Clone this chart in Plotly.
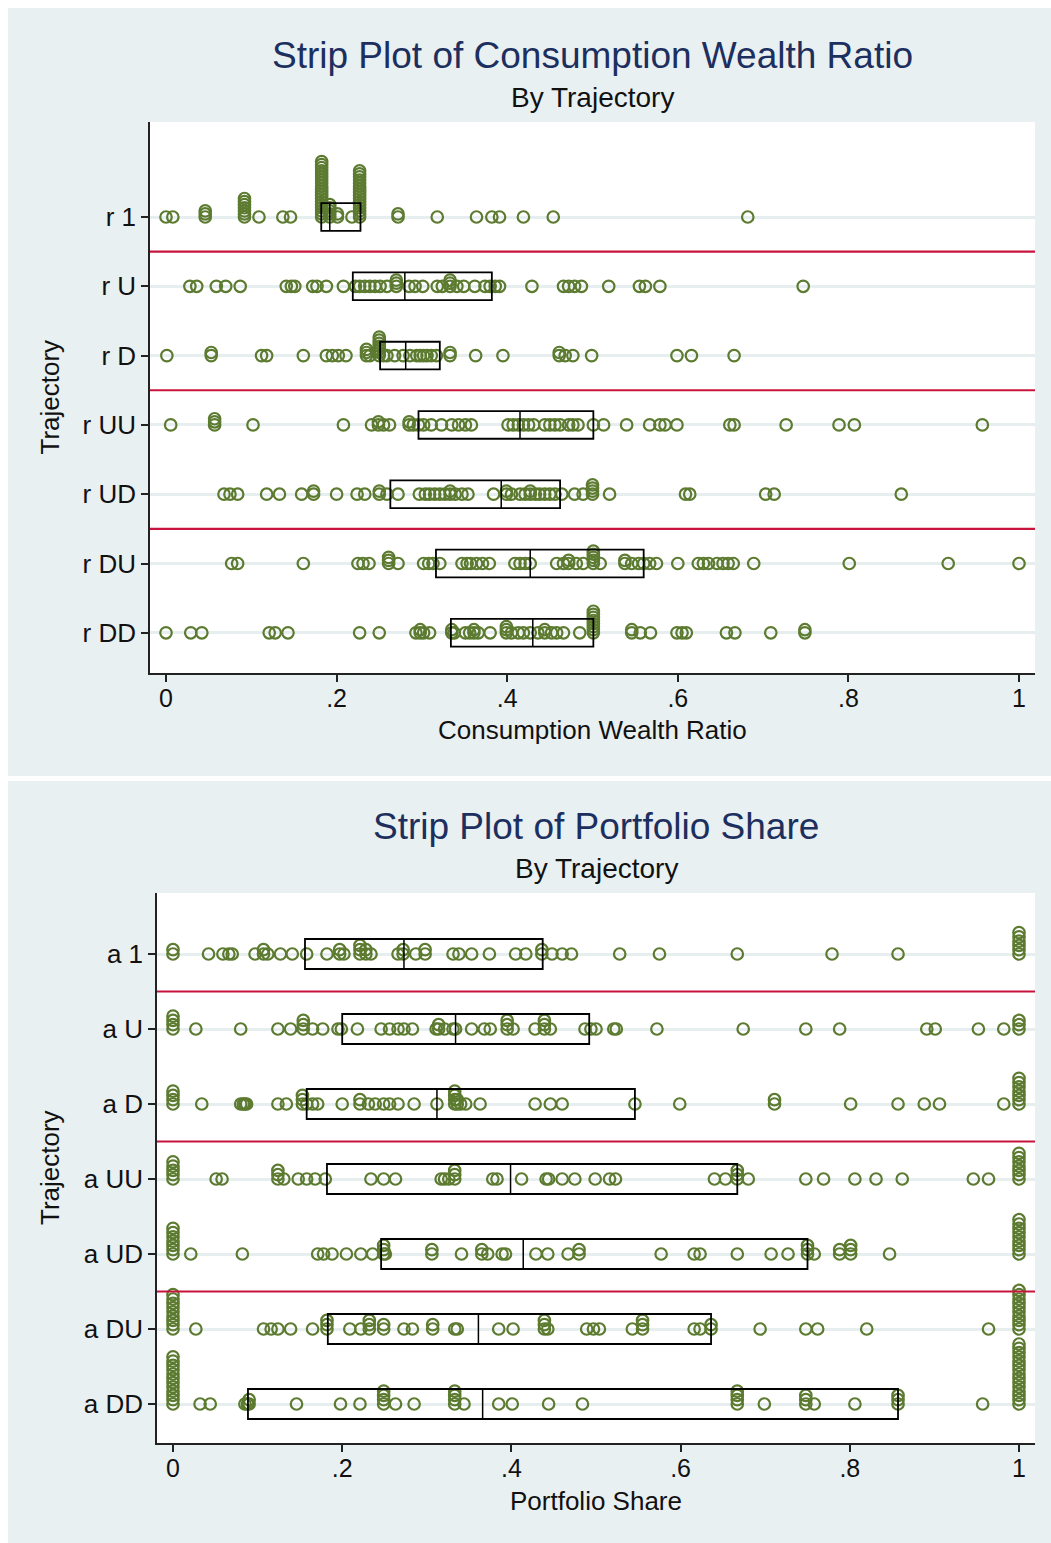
import numpy as np
import plotly.graph_objects as go

W, H = 1051, 1543

# ---------------- Consumption wealth ratio (top panel) ----------------
cwr_labels = ["r 1", "r U", "r D", "r UU", "r UD", "r DU", "r DD"]

cwr_r1_x = [0.0, 0.008, 0.046, 0.092, 0.109, 0.137, 0.146, 0.1825, 0.192, 0.201, 0.218, 0.227,
            0.272, 0.318, 0.364, 0.382, 0.391, 0.419, 0.454, 0.682]
cwr_r1_n = [1, 1, 3, 7, 1, 1, 1, 19, 5, 2, 1, 16, 2, 1, 1, 1, 1, 1, 1, 1]

cwr_rU_x = [0.028, 0.036, 0.059, 0.070, 0.087, 0.141, 0.147, 0.151, 0.172, 0.177, 0.188, 0.208,
            0.222, 0.227, 0.233, 0.239, 0.245, 0.251, 0.259, 0.270, 0.285, 0.292, 0.301, 0.318,
            0.324, 0.333, 0.341, 0.349, 0.362, 0.374, 0.380, 0.386, 0.391, 0.429, 0.466, 0.472,
            0.479, 0.487, 0.519, 0.555, 0.562, 0.579, 0.747]
cwr_rU_n = [1, 1, 1, 1, 1, 1, 1, 1, 1, 1, 1, 1,
            1, 1, 1, 1, 1, 1, 1, 3, 1, 1, 1, 1,
            1, 3, 1, 1, 1, 1, 1, 1, 1, 1, 1, 1,
            1, 1, 1, 1, 1, 1, 1]

cwr_rD_x = [0.001, 0.053, 0.112, 0.118, 0.161, 0.188, 0.195, 0.202, 0.211, 0.235, 0.239, 0.250,
            0.255, 0.259, 0.268, 0.278, 0.286, 0.294, 0.298, 0.302, 0.306, 0.311, 0.317, 0.333,
            0.363, 0.395, 0.461, 0.468, 0.477, 0.499, 0.599, 0.616, 0.666]
cwr_rD_n = [1, 2, 1, 1, 1, 1, 1, 1, 1, 3, 1, 7,
            1, 1, 1, 1, 1, 1, 1, 1, 1, 1, 1, 2,
            1, 1, 2, 1, 1, 1, 1, 1, 1]

cwr_rUU_x = [0.0055, 0.057, 0.102, 0.208, 0.241, 0.249, 0.255, 0.262, 0.285, 0.290, 0.296, 0.302,
             0.311, 0.323, 0.335, 0.343, 0.351, 0.358, 0.401, 0.407, 0.413, 0.419, 0.425, 0.431,
             0.444, 0.450, 0.456, 0.462, 0.472, 0.477, 0.483, 0.501, 0.513, 0.540, 0.567, 0.579,
             0.585, 0.599, 0.661, 0.666, 0.727, 0.789, 0.807, 0.957]
cwr_rUU_n = [1, 3, 1, 1, 1, 2, 1, 1, 2, 1, 1, 1,
             1, 1, 1, 1, 1, 1, 1, 1, 1, 1, 1, 1,
             1, 1, 1, 1, 1, 1, 1, 1, 1, 1, 1, 1,
             1, 1, 1, 1, 1, 1, 1, 1]

cwr_rUD_x = [0.068, 0.075, 0.084, 0.118, 0.133, 0.159, 0.173, 0.200, 0.224, 0.233, 0.250, 0.259,
             0.272, 0.297, 0.304, 0.309, 0.315, 0.321, 0.327, 0.333, 0.339, 0.347, 0.354, 0.384,
             0.399, 0.405, 0.415, 0.421, 0.427, 0.433, 0.438, 0.444, 0.450, 0.456, 0.464, 0.479,
             0.489, 0.500, 0.520, 0.609, 0.614, 0.703, 0.713, 0.862]
cwr_rUD_n = [1, 1, 1, 1, 1, 1, 2, 1, 1, 1, 2, 1,
             1, 1, 1, 1, 1, 1, 1, 2, 1, 1, 1, 1,
             2, 1, 1, 1, 2, 1, 1, 1, 1, 1, 1, 1,
             1, 4, 1, 1, 1, 1, 1, 1]

cwr_rDU_x = [0.077, 0.084, 0.161, 0.225, 0.231, 0.238, 0.261, 0.272, 0.302, 0.308, 0.313, 0.321,
             0.347, 0.353, 0.357, 0.364, 0.371, 0.379, 0.409, 0.415, 0.421, 0.427, 0.458, 0.466,
             0.472, 0.481, 0.489, 0.501, 0.509, 0.538, 0.546, 0.554, 0.560, 0.567, 0.575, 0.600,
             0.624, 0.630, 0.636, 0.646, 0.653, 0.659, 0.665, 0.689, 0.801, 0.917, 1.0]
cwr_rDU_n = [1, 1, 1, 1, 1, 1, 3, 1, 1, 1, 1, 1,
             1, 1, 1, 1, 1, 1, 1, 1, 1, 1, 1, 1,
             2, 1, 1, 5, 1, 2, 1, 1, 1, 1, 1, 1,
             1, 1, 1, 1, 1, 1, 1, 1, 1, 1, 1]

cwr_rDD_x = [0.0, 0.029, 0.042, 0.121, 0.128, 0.143, 0.227, 0.250, 0.293, 0.298, 0.302, 0.309,
             0.335, 0.338, 0.351, 0.356, 0.361, 0.366, 0.380, 0.399, 0.405, 0.413, 0.419, 0.427,
             0.436, 0.444, 0.452, 0.458, 0.466, 0.485, 0.501, 0.546, 0.556, 0.568, 0.599, 0.605,
             0.610, 0.657, 0.667, 0.709, 0.749]
cwr_rDD_n = [1, 1, 1, 1, 1, 1, 1, 1, 1, 2, 1, 1,
             2, 1, 1, 1, 2, 1, 1, 3, 1, 1, 1, 1,
             1, 2, 1, 1, 1, 1, 8, 2, 1, 1, 1, 1,
             1, 1, 1, 1, 2]

cwr_q1 = [0.182, 0.219, 0.251, 0.296, 0.263, 0.3165, 0.334]
cwr_med = [0.192, 0.280, 0.281, 0.415, 0.393, 0.427, 0.430]
cwr_q3 = [0.228, 0.382, 0.321, 0.501, 0.462, 0.560, 0.501]

# ---------------- Portfolio share (bottom panel) ----------------
ps_labels = ["a 1", "a U", "a D", "a UU", "a UD", "a DU", "a DD"]

ps_a1_x = [0.0, 0.042, 0.059, 0.066, 0.070, 0.097, 0.107, 0.112, 0.127, 0.141, 0.158, 0.182,
           0.197, 0.202, 0.221, 0.228, 0.234, 0.266, 0.272, 0.287, 0.298, 0.331, 0.338, 0.353,
           0.374, 0.405, 0.417, 0.436, 0.448, 0.460, 0.471, 0.528, 0.575, 0.667, 0.779, 0.857, 1.0]
ps_a1_n = [2, 1, 1, 1, 1, 1, 2, 1, 1, 1, 1, 1,
           2, 1, 3, 2, 1, 1, 2, 1, 2, 1, 1, 1,
           1, 1, 1, 2, 1, 1, 1, 1, 1, 1, 1, 1, 6]

ps_aU_x = [0.0, 0.027, 0.080, 0.124, 0.139, 0.154, 0.165, 0.177, 0.195, 0.199, 0.218, 0.246,
           0.256, 0.266, 0.273, 0.283, 0.311, 0.314, 0.321, 0.331, 0.334, 0.353, 0.368, 0.375,
           0.395, 0.402, 0.428, 0.439, 0.446, 0.487, 0.494, 0.500, 0.521, 0.524, 0.572, 0.674,
           0.748, 0.788, 0.891, 0.901, 0.952, 0.982, 1.0]
ps_aU_n = [4, 1, 1, 1, 1, 3, 1, 1, 1, 1, 1, 1,
           1, 1, 1, 1, 1, 2, 1, 1, 1, 1, 1, 1,
           3, 1, 1, 3, 1, 1, 1, 1, 1, 1, 1, 1,
           1, 1, 1, 1, 1, 1, 3]

ps_aD_x = [0.0, 0.034, 0.080, 0.083, 0.085, 0.087, 0.124, 0.134, 0.153, 0.158, 0.165, 0.171,
           0.200, 0.221, 0.231, 0.239, 0.249, 0.256, 0.266, 0.285, 0.312, 0.333, 0.336, 0.340,
           0.346, 0.363, 0.428, 0.446, 0.460, 0.546, 0.599, 0.711, 0.801, 0.857, 0.888, 0.906,
           0.982, 1.0]
ps_aD_n = [4, 1, 1, 1, 1, 1, 1, 1, 3, 1, 1, 1,
           1, 2, 1, 1, 1, 1, 1, 1, 1, 4, 2, 1,
           1, 1, 1, 1, 1, 1, 1, 2, 1, 1, 1, 1,
           1, 7]

ps_aUU_x = [0.0, 0.051, 0.058, 0.124, 0.131, 0.148, 0.158, 0.168, 0.180, 0.234, 0.249, 0.263,
            0.317, 0.321, 0.326, 0.333, 0.378, 0.383, 0.412, 0.441, 0.444, 0.460, 0.475, 0.499,
            0.516, 0.523, 0.640, 0.653, 0.667, 0.680, 0.748, 0.769, 0.806, 0.831, 0.862, 0.946,
            0.964, 1.0]
ps_aUU_n = [5, 1, 1, 3, 1, 1, 1, 1, 1, 1, 1, 1,
            1, 1, 1, 3, 1, 1, 1, 1, 1, 1, 1, 1,
            1, 1, 1, 1, 3, 1, 1, 1, 1, 1, 1, 1,
            1, 7]

ps_aUD_x = [0.0, 0.021, 0.082, 0.171, 0.178, 0.188, 0.205, 0.222, 0.236, 0.249, 0.251, 0.306,
            0.341, 0.365, 0.372, 0.389, 0.393, 0.429, 0.443, 0.467, 0.480, 0.577, 0.616, 0.623,
            0.667, 0.707, 0.727, 0.750, 0.758, 0.788, 0.801, 0.847, 1.0]
ps_aUD_n = [7, 1, 1, 1, 1, 1, 1, 1, 1, 3, 1, 2,
            1, 2, 1, 1, 1, 1, 1, 1, 2, 1, 1, 1,
            1, 1, 1, 3, 1, 2, 3, 1, 9]

ps_aDU_x = [0.0, 0.027, 0.107, 0.116, 0.124, 0.139, 0.165, 0.182, 0.209, 0.222, 0.232, 0.249,
            0.273, 0.283, 0.307, 0.333, 0.336, 0.385, 0.402, 0.439, 0.443, 0.489, 0.497, 0.504,
            0.543, 0.555, 0.616, 0.623, 0.636, 0.694, 0.748, 0.762, 0.820, 0.964, 1.0]
ps_aDU_n = [9, 1, 1, 1, 1, 1, 1, 3, 1, 1, 3, 2,
            1, 1, 2, 1, 1, 1, 1, 3, 1, 1, 1, 1,
            1, 3, 1, 1, 2, 1, 1, 1, 1, 1, 10]

ps_aDD_x = [0.0, 0.032, 0.044, 0.085, 0.088, 0.090, 0.146, 0.198, 0.221, 0.249, 0.263, 0.285,
            0.333, 0.344, 0.385, 0.401, 0.444, 0.484, 0.667, 0.699, 0.748, 0.758, 0.806, 0.857,
            0.957, 1.0]
ps_aDD_n = [12, 1, 1, 1, 1, 2, 1, 1, 1, 4, 1, 1,
            4, 1, 1, 1, 1, 1, 4, 1, 3, 1, 1, 3,
            1, 15]

ps_q1 = [0.156, 0.200, 0.158, 0.182, 0.246, 0.183, 0.0886]
ps_med = [0.273, 0.334, 0.312, 0.399, 0.414, 0.361, 0.366]
ps_q3 = [0.437, 0.492, 0.546, 0.667, 0.750, 0.636, 0.857]

cwr_rows = [(cwr_r1_x, cwr_r1_n), (cwr_rU_x, cwr_rU_n), (cwr_rD_x, cwr_rD_n),
            (cwr_rUU_x, cwr_rUU_n), (cwr_rUD_x, cwr_rUD_n), (cwr_rDU_x, cwr_rDU_n),
            (cwr_rDD_x, cwr_rDD_n)]
ps_rows = [(ps_a1_x, ps_a1_n), (ps_aU_x, ps_aU_n), (ps_aD_x, ps_aD_n),
           (ps_aUU_x, ps_aUU_n), (ps_aUD_x, ps_aUD_n), (ps_aDU_x, ps_aDU_n),
           (ps_aDD_x, ps_aDD_n)]

# ---------------- styling ----------------
BG = "#E9F0F2"
MARKER = "#5C7B30"
RED = "#C8143C"
GRID = "#E6EEF0"
TITLE_C = "#1C2F5E"
FONT = "Liberation Sans, Arial, Helvetica, sans-serif"
MAX_STACK_H = 0.8   # tallest stack fills 0.8 of a row


def px_x(p):
    return p / W


def px_y(p):
    return 1 - p / H


def stacked(rows):
    xs, ys = [], []
    top = max(max(n) for _, n in rows)
    step = MAX_STACK_H / (top - 1)
    for i, (vals, counts) in enumerate(rows):
        for v, c in zip(vals, counts):
            for k in range(c):
                xs.append(v)
                ys.append(-i + k * step)
    return xs, ys


fig = go.Figure()

panels = [
    dict(rows=cwr_rows, labels=cwr_labels, q1=cwr_q1, med=cwr_med, q3=cwr_q3,
         xa="x", ya="y", plot=(150, 122, 1035, 673), zero=166, one=1019,
         first=217, spacing=69.3, bg=(8, 8, 1051, 776),
         title="Strip Plot of Consumption Wealth Ratio", xtitle="Consumption Wealth Ratio",
         ty=55, sty=98, xty=730),
    dict(rows=ps_rows, labels=ps_labels, q1=ps_q1, med=ps_med, q3=ps_q3,
         xa="x2", ya="y2", plot=(157, 893, 1035, 1443), zero=173, one=1019,
         first=954, spacing=75.0, bg=(8, 781, 1051, 1543),
         title="Strip Plot of Portfolio Share", xtitle="Portfolio Share",
         ty=826, sty=869, xty=1501),
]

shapes, annotations = [], []
layout_axes = {}

for idx, p in enumerate(panels):
    xs, ys = stacked(p["rows"])
    fig.add_trace(go.Scatter(
        x=xs, y=ys, mode="markers", xaxis=p["xa"], yaxis=p["ya"],
        marker=dict(symbol="circle-open", size=11.5, color=MARKER,
                    line=dict(width=2.2, color=MARKER)),
        showlegend=False, hoverinfo="x"))

    x0p, y0p, x1p, y1p = p["plot"]
    scale = p["one"] - p["zero"]
    xr = [(x0p - p["zero"]) / scale, (x1p - p["zero"]) / scale]
    nrows = len(p["labels"])
    first, spacing = p["first"], p["spacing"]
    ytop = (first - y0p) / spacing
    ybot = -(nrows - 1) - (y1p - (first + (nrows - 1) * spacing)) / spacing

    axn = "" if idx == 0 else "2"
    layout_axes["xaxis" + axn] = dict(
        domain=[px_x(x0p), px_x(x1p)], range=xr, anchor="y" + axn,
        tickvals=[0, 0.2, 0.4, 0.6, 0.8, 1], ticktext=["0", ".2", ".4", ".6", ".8", "1"],
        ticks="outside", ticklen=7, tickwidth=1.5, tickcolor="#222", ticklabelstandoff=-5,
        showline=True, linecolor="#222", linewidth=1.5, showgrid=False, zeroline=False,
        tickfont=dict(size=25, color="#111", family=FONT))
    layout_axes["yaxis" + axn] = dict(
        domain=[px_y(y1p), px_y(y0p)], range=[ybot, ytop], anchor="x" + axn,
        tickvals=[-i for i in range(nrows)], ticktext=p["labels"],
        ticks="outside", ticklen=7, tickwidth=1.5, tickcolor="#222",
        showline=True, linecolor="#222", linewidth=1.5,
        showgrid=True, gridcolor=GRID, gridwidth=2.5, zeroline=False,
        tickfont=dict(size=26, color="#111", family=FONT))

    # panel background
    bx0, by0, bx1, by1 = p["bg"]
    shapes.append(dict(type="rect", xref="paper", yref="paper", layer="below",
                       x0=px_x(bx0), x1=px_x(bx1), y0=px_y(by1), y1=px_y(by0),
                       fillcolor=BG, line=dict(width=0)))
    shapes.append(dict(type="rect", xref="paper", yref="paper", layer="below",
                       x0=px_x(x0p), x1=px_x(x1p), y0=px_y(y1p), y1=px_y(y0p),
                       fillcolor="white", line=dict(width=0)))

    xref, yref = p["xa"], p["ya"]
    # separators between trajectory groups
    for yy in (-0.5, -2.5, -4.5):
        shapes.append(dict(type="line", xref=xref + " domain", yref=yref, x0=0, x1=1,
                           y0=yy, y1=yy, line=dict(color=RED, width=2.2), layer="above"))
    # quartile boxes with median line
    for i in range(nrows):
        shapes.append(dict(type="rect", xref=xref, yref=yref,
                           x0=p["q1"][i], x1=p["q3"][i], y0=-i - 0.2, y1=-i + 0.2,
                           line=dict(color="black", width=1.8), layer="above"))
        shapes.append(dict(type="line", xref=xref, yref=yref,
                           x0=p["med"][i], x1=p["med"][i], y0=-i - 0.2, y1=-i + 0.2,
                           line=dict(color="black", width=1.5), layer="above"))

    cx = (x0p + x1p) / 2
    annotations += [
        dict(text=p["title"], x=px_x(cx), y=px_y(p["ty"]), xref="paper", yref="paper",
             showarrow=False, xanchor="center", yanchor="middle",
             font=dict(size=37, color=TITLE_C, family=FONT)),
        dict(text="By Trajectory", x=px_x(cx), y=px_y(p["sty"]), xref="paper", yref="paper",
             showarrow=False, xanchor="center", yanchor="middle",
             font=dict(size=28, color="#111", family=FONT)),
        dict(text=p["xtitle"], x=px_x(cx), y=px_y(p["xty"]), xref="paper", yref="paper",
             showarrow=False, xanchor="center", yanchor="middle",
             font=dict(size=26, color="#111", family=FONT)),
        dict(text="Trajectory", x=px_x(50), y=px_y((y0p + y1p) / 2), xref="paper", yref="paper",
             showarrow=False, xanchor="center", yanchor="middle", textangle=-90,
             font=dict(size=26, color="#111", family=FONT)),
    ]

fig.update_layout(
    width=W, height=H, margin=dict(l=0, r=0, t=0, b=0),
    paper_bgcolor="white", plot_bgcolor="rgba(0,0,0,0)",
    shapes=shapes, annotations=annotations, **layout_axes)

fig.write_html("out.html")
